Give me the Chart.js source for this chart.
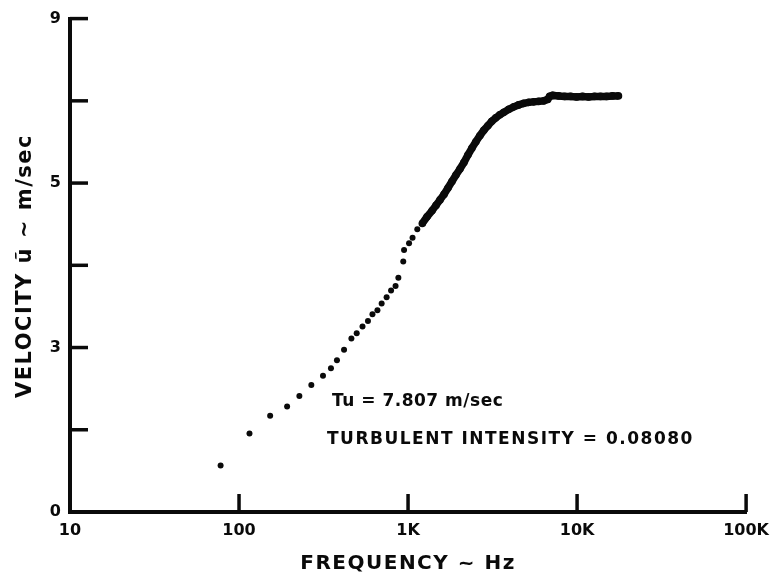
<!DOCTYPE html>
<html><head><meta charset="utf-8">
<script src="https://cdn.jsdelivr.net/npm/chart.js@4"></script>
<style>html,body{margin:0;padding:0;background:#fff}#wrap{width:778px;height:580px;position:relative}</style>
</head><body><div id="wrap"><canvas id="c"></canvas></div>
<script>
// ---- data ----
const xTickValues = [10, 100, 1000, 10000, 100000];
const xTickLabels = ['10', '100', '1K', '10K', '100K'];
const yTickValues = [0, 1.5, 3, 4.5, 6, 7.5, 9];
const yTickLabels = ['0', '', '3', '', '5', '', '9'];

// individually visible dots (low-frequency part)
const sparseFreq = [77.8, 115.3, 152.8, 192.5, 227.5, 267.8, 313.9, 349.9, 379.6, 418.1, 462.2, 496.8, 537.7, 579.2, 615.8, 658.9, 697.9, 746.8, 793.6, 843.6, 876.3, 936.9, 947.1, 1013.7, 1063, 1134, 1214.6];
const sparseVel  = [0.85, 1.43, 1.755, 1.924, 2.118, 2.318, 2.486, 2.621, 2.766, 2.958, 3.167, 3.261, 3.385, 3.485, 3.606, 3.679, 3.802, 3.915, 4.042, 4.123, 4.272, 4.568, 4.78, 4.9, 5.004, 5.158, 5.263];

// densely packed dots (high-frequency band)
const denseFreq = [1214.6, 1294.6, 1385.5, 1463, 1545, 1631, 1722, 1818, 1920, 2027, 2140, 2259, 2386, 2519, 2659, 2808, 2965, 3130, 3305, 3490, 3685, 3944, 4221, 4517, 4834, 5174, 5537, 5926, 6342, 6699, 6883, 7170, 7779, 8441, 9157, 9934, 10777, 11692, 12684, 13760, 14928, 16195, 17569];
const denseVel  = [5.263, 5.385, 5.494, 5.593, 5.693, 5.793, 5.911, 6.029, 6.147, 6.256, 6.374, 6.51, 6.637, 6.755, 6.864, 6.964, 7.045, 7.127, 7.19, 7.245, 7.29, 7.345, 7.39, 7.426, 7.454, 7.472, 7.481, 7.49, 7.499, 7.526, 7.581, 7.599, 7.59, 7.581, 7.581, 7.572, 7.581, 7.572, 7.581, 7.581, 7.581, 7.59, 7.59];

const xTitle = 'FREQUENCY ~ Hz';
const yTitle = 'VELOCITY ũ ~ m/sec';
const noteLines = ['Tu = 7.807 m/sec', 'TURBULENT INTENSITY = 0.08080'];

const INK = '#0a0a0a';
const toPts = (xs, ys) => xs.map((x, i) => ({x: x, y: ys[i]}));

const decorPlugin = {
  id: 'decor',
  beforeDraw(chart) {
    const ctx = chart.ctx;
    ctx.save();
    ctx.fillStyle = '#fff';
    ctx.fillRect(0, 0, chart.width, chart.height);
    ctx.restore();
  },
  afterDraw(chart) {
    const ctx = chart.ctx;
    const xs = chart.scales.x, ys = chart.scales.y;
    const a = chart.chartArea;
    ctx.save();
    ctx.strokeStyle = INK;
    ctx.lineWidth = 3.5;
    ctx.lineCap = 'butt';
    // inward tick marks
    xTickValues.forEach((v, i) => {
      if (i === 0) return;
      const px = xs.getPixelForValue(v);
      ctx.beginPath(); ctx.moveTo(px, a.bottom); ctx.lineTo(px, a.bottom - 18); ctx.stroke();
    });
    yTickValues.forEach((v, i) => {
      if (i === 0) return;
      const py = ys.getPixelForValue(v);
      ctx.beginPath(); ctx.moveTo(a.left, py); ctx.lineTo(a.left + 18, py); ctx.stroke();
    });
    ctx.fillStyle = INK;
    // axis titles
    ctx.textBaseline = 'middle';
    ctx.textAlign = 'center';
    ctx.font = 'bold 20px "DejaVu Sans"';
    ctx.letterSpacing = '1.5px';
    ctx.fillText(xTitle, (a.left + a.right) / 2, 564);
    ctx.save();
    ctx.translate(26, 266);
    ctx.rotate(-Math.PI / 2);
    ctx.font = 'bold 21px "DejaVu Sans"';
    ctx.letterSpacing = '1.5px';
    ctx.fillText(yTitle, 0, 0);
    ctx.restore();
    // notes
    ctx.textAlign = 'left';
    ctx.font = 'bold 17px "DejaVu Sans"';
    ctx.letterSpacing = '0.5px';
    ctx.fillText(noteLines[0], a.left + 262, 402);
    ctx.letterSpacing = '1.5px';
    ctx.fillText(noteLines[1], a.left + 257, 440);
    ctx.restore();
  }
};

new Chart(document.getElementById('c'), {
  type: 'scatter',
  data: {
    datasets: [
      {
        data: toPts(sparseFreq, sparseVel),
        pointRadius: 3, pointBorderWidth: 0,
        backgroundColor: INK, borderColor: INK, showLine: false
      },
      {
        data: toPts(denseFreq, denseVel),
        showLine: true, borderWidth: 7.5, borderColor: INK,
        pointRadius: 3.8, pointBorderWidth: 0, backgroundColor: INK,
        tension: 0
      }
    ]
  },
  options: {
    responsive: true,
    maintainAspectRatio: false,
    animation: false,
    events: [],
    layout: {padding: {left: 0, top: 16, right: 30, bottom: 0}},
    plugins: {legend: {display: false}, tooltip: {enabled: false}, title: {display: false}},
    scales: {
      x: {
        type: 'logarithmic', position: 'bottom', min: 10, max: 100000,
        afterBuildTicks: s => { s.ticks = xTickValues.map(v => ({value: v})); },
        afterFit: s => { s.height = 68; },
        grid: {display: false, drawTicks: false},
        border: {display: true, color: INK, width: 4},
        ticks: {
          autoSkip: false, maxRotation: 0, padding: 9, color: INK,
          font: {family: '"DejaVu Sans"', weight: 'bold', size: 16},
          callback: (v) => { const i = xTickValues.indexOf(v); return i >= 0 ? xTickLabels[i] : ''; }
        }
      },
      y: {
        type: 'linear', position: 'left', min: 0, max: 9,
        afterBuildTicks: s => { s.ticks = yTickValues.map(v => ({value: v})); },
        afterFit: s => { s.width = 70; },
        grid: {display: false, drawTicks: false},
        border: {display: true, color: INK, width: 4},
        ticks: {
          autoSkip: false, padding: 9, color: INK,
          font: {family: '"DejaVu Sans"', weight: 'bold', size: 16},
          callback: (v) => { const i = yTickValues.indexOf(v); return i >= 0 ? yTickLabels[i] : ''; }
        }
      }
    }
  },
  plugins: [decorPlugin]
});
</script>
</body></html>
